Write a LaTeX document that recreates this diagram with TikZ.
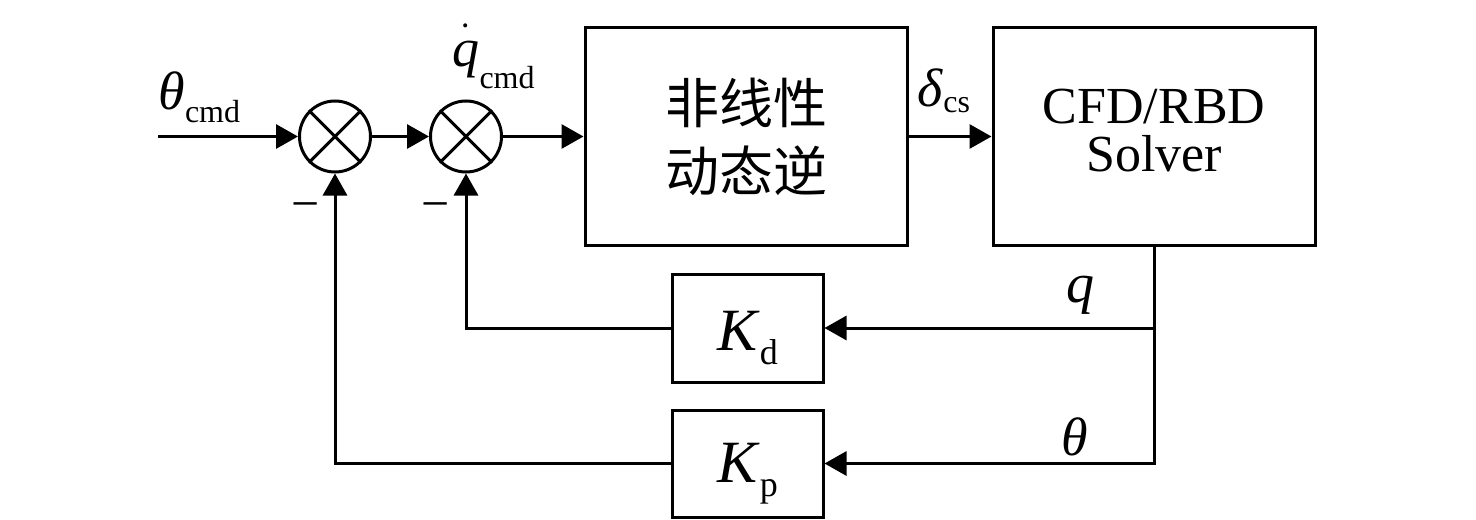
\documentclass[tikz,border=0pt]{standalone}
\usepackage{fontspec}
\setmainfont{Liberation Serif}
\newfontfamily\cjkfont{Noto Sans CJK SC}
\usetikzlibrary{arrows.meta}
% italic symbol (size #1) with a lowered upright index (size #4, drop #5)
\newcommand{\subvar}[5]{\fontsize{#1}{#1}\selectfont\textit{#2}\raisebox{-#5}{\fontsize{#4}{#4}\selectfont #3}}

\tikzset{every picture/.style={line width=1.5pt}}
\tikzset{
  blockbox/.style={draw, rectangle, inner sep=0pt, align=center},
  sumnode/.style={draw, circle, minimum size=35.5pt, inner sep=0pt},
  arr/.style={-{Triangle[length=11pt,width=12pt]}},
  minus/.style={anchor=base, inner sep=0pt, font=\fontsize{25}{25}\selectfont},
}

\begin{document}
\begin{tikzpicture}[x=0.5pt,y=0.5pt,yscale=-1,xscale=1]
    \useasboundingbox (0,0) rectangle (1476,519);

    % Summing junctions
    \coordinate (cin) at (158,136.5);
    \node[sumnode] (s1) at (335,136.5) {};
    \node[sumnode] (s2) at (466,136.5) {};
    \foreach \s in {s1,s2}
      \draw (\s.north west) -- (\s.south east) (\s.north east) -- (\s.south west);

    % Blocks
    \node[blockbox, minimum width=161pt, minimum height=108.5pt,
          font=\cjkfont\fontsize{27}{34}\selectfont] (ndi) at (746,136.5) {非线性\\动态逆};
    \node[blockbox, minimum width=161pt, minimum height=108.5pt,
          font=\fontsize{26}{24}\selectfont] (solver) at (1154,136.5) {CFD/RBD\\Solver\rule[-6pt]{0pt}{6pt}};
    \node[blockbox, minimum width=75.5pt, minimum height=54pt] (kd) at (747.5,328) {\rule{0pt}{30pt}\subvar{30}{K}{d}{18}{7pt}};
    \node[blockbox, minimum width=75.5pt, minimum height=53.5pt] (kp) at (747.5,463.5) {\rule{0pt}{30pt}\subvar{30}{K}{p}{18}{7pt}};

    % Forward path
    \draw[arr] (cin) -- (s1);
    \draw[arr] (s1) -- (s2);
    \draw[arr] (s2) -- (ndi);
    \draw[arr] (ndi) -- (solver);

    % Feedback paths
    \draw[arr] (solver.south) |- (kd.east);
    \draw[arr] (solver.south) |- (kp.east);
    \draw[arr] (kd.west) -| (s2.south);
    \draw[arr] (kp.west) -| (s1.south);

    % Text Node
    \node[anchor=base west, inner sep=0pt] (lthcmd) at (157,110) {\subvar{27}{θ}{cmd}{16}{6pt}};
    % Text Node
    \node[anchor=base west, inner sep=0pt] (lqcmd) at (451,67) {\fontsize{27}{27}\selectfont$\dot{\textit{q}\rule{0pt}{16pt}}$\raisebox{-11pt}{\fontsize{16}{16}\selectfont cmd}};
    % Text Node
    \node[anchor=base west, inner sep=0pt] (ldelta) at (916,106) {\subvar{27}{δ}{cs}{16}{3pt}};
    % Text Node
    \node[inner sep=0pt, font=\fontsize{28}{28}\selectfont] (lq) at (1080,295) {\textit{q}};
    % Text Node
    \node[inner sep=0pt, font=\fontsize{27}{27}\selectfont] (ltheta) at (1075,437) {\textit{θ}};
    % Text Node
    \node[minus] (lminA) at (306,220) {−};
    % Text Node
    \node[minus] (lminB) at (436,220) {−};

\end{tikzpicture}
\end{document}
